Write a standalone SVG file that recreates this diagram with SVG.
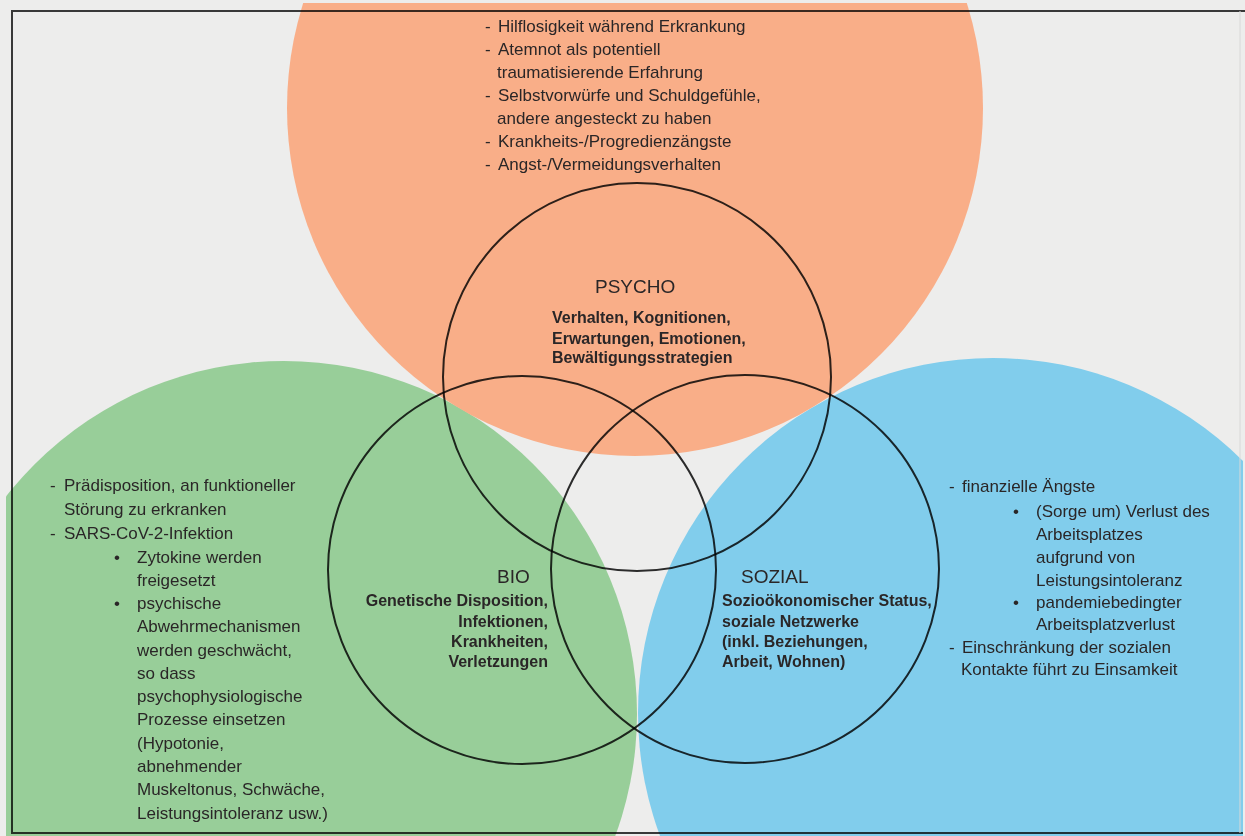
<svg xmlns="http://www.w3.org/2000/svg" width="1245" height="836" viewBox="0 0 1245 836">
<style>
.t{font-family:"Liberation Sans",Arial,sans-serif;font-size:17px;fill:#2a2627}
.b{font-family:"Liberation Sans",Arial,sans-serif;font-size:16px;font-weight:bold;fill:#2a2627}
.h{font-family:"Liberation Sans",Arial,sans-serif;font-size:19px;fill:#2a2627}
.ring{fill:none;stroke:#2e2e2e;stroke-width:2;mix-blend-mode:multiply}
.e{text-anchor:end}
</style>
<defs>
<clipPath id="frame"><rect x="6" y="3" width="1237" height="833"/></clipPath>
</defs>
<rect x="0" y="0" width="1245" height="836" fill="#ededec"/>
<g clip-path="url(#frame)">
<circle id="bg-bio" cx="284" cy="714" r="353" fill="#98ce99"/>
<circle id="bg-sozial" cx="993" cy="713" r="355" fill="#81cdec"/>
<circle id="bg-psycho" cx="635" cy="108" r="348" fill="#f9ae88"/>
</g>
<g id="rings">
<circle class="ring" cx="637" cy="377" r="194"/>
<circle class="ring" cx="522" cy="570" r="194"/>
<circle class="ring" cx="745" cy="569" r="194"/>
</g>
<g id="frame-lines" fill="none">
<path d="M1245 11 H12 V833 H1243" stroke="#3c3c3c" stroke-width="2" style="mix-blend-mode:multiply"/>
<path d="M1240 11 V833" stroke="#d8d8d8" stroke-width="1"/>
</g>
<g id="node-psycho">
<text class="t" x="485" y="32">-</text><text class="t" x="498" y="32">Hilflosigkeit während Erkrankung</text>
<text class="t" x="485" y="55">-</text><text class="t" x="498" y="55">Atemnot als potentiell</text>
<text class="t" x="497" y="78">traumatisierende Erfahrung</text>
<text class="t" x="485" y="101">-</text><text class="t" x="498" y="101">Selbstvorwürfe und Schuldgefühle,</text>
<text class="t" x="497" y="124">andere angesteckt zu haben</text>
<text class="t" x="485" y="147">-</text><text class="t" x="498" y="147">Krankheits-/Progredienzängste</text>
<text class="t" x="485" y="170">-</text><text class="t" x="498" y="170">Angst-/Vermeidungsverhalten</text>
<text class="h" x="595" y="293">PSYCHO</text>
<text class="b" x="552" y="323">Verhalten, Kognitionen,</text>
<text class="b" x="552" y="343.5">Erwartungen, Emotionen,</text>
<text class="b" x="552" y="363">Bewältigungsstrategien</text>
</g>
<g id="node-bio">
<text class="t" x="50" y="491">-</text><text class="t" x="64" y="491">Prädisposition, an funktioneller</text>
<text class="t" x="64" y="515">Störung zu erkranken</text>
<text class="t" x="50" y="539">-</text><text class="t" x="64" y="539">SARS-CoV-2-Infektion</text>
<text class="t" x="114" y="563">•</text><text class="t" x="137" y="563">Zytokine werden</text>
<text class="t" x="137" y="586">freigesetzt</text>
<text class="t" x="114" y="609">•</text><text class="t" x="137" y="609">psychische</text>
<text class="t" x="137" y="632">Abwehrmechanismen</text>
<text class="t" x="137" y="656">werden geschwächt,</text>
<text class="t" x="137" y="679">so dass</text>
<text class="t" x="137" y="702">psychophysiologische</text>
<text class="t" x="137" y="725">Prozesse einsetzen</text>
<text class="t" x="137" y="749">(Hypotonie,</text>
<text class="t" x="137" y="772">abnehmender</text>
<text class="t" x="137" y="795">Muskeltonus, Schwäche,</text>
<text class="t" x="137" y="819">Leistungsintoleranz usw.)</text>
<text class="h" x="497" y="583">BIO</text>
<text class="b e" x="548" y="606">Genetische Disposition,</text>
<text class="b e" x="548" y="626.5">Infektionen,</text>
<text class="b e" x="548" y="647">Krankheiten,</text>
<text class="b e" x="548" y="667">Verletzungen</text>
</g>
<g id="node-sozial">
<text class="t" x="949" y="492">-</text><text class="t" x="962" y="492">finanzielle Ängste</text>
<text class="t" x="1013" y="517">•</text><text class="t" x="1036" y="517">(Sorge um) Verlust des</text>
<text class="t" x="1036" y="540">Arbeitsplatzes</text>
<text class="t" x="1036" y="563">aufgrund von</text>
<text class="t" x="1036" y="586">Leistungsintoleranz</text>
<text class="t" x="1013" y="608">•</text><text class="t" x="1036" y="608">pandemiebedingter</text>
<text class="t" x="1036" y="630">Arbeitsplatzverlust</text>
<text class="t" x="949" y="653">-</text><text class="t" x="962" y="653">Einschränkung der sozialen</text>
<text class="t" x="961" y="675">Kontakte führt zu Einsamkeit</text>
<text class="h" x="741" y="583">SOZIAL</text>
<text class="b" x="722" y="606">Sozioökonomischer Status,</text>
<text class="b" x="722" y="626.5">soziale Netzwerke</text>
<text class="b" x="722" y="647">(inkl. Beziehungen,</text>
<text class="b" x="722" y="667">Arbeit, Wohnen)</text>
</g>
</svg>
